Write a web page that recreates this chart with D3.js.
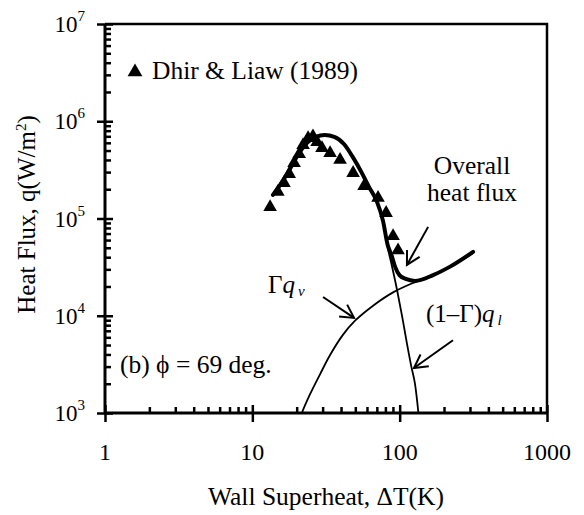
<!DOCTYPE html>
<meta charset="utf-8">
<style>
body { margin: 0; background: #fff; }
text { font-family: "Liberation Serif", "Times New Roman", serif; fill: #000; }
</style>
<svg width="584" height="515"></svg>
<script src="https://d3js.org/d3.v7.min.js"></script>
<script>

// Dhir & Liaw (1989) measurements: wall superheat (K), heat flux (W/m2)
var dhirT = [13.2, 14.9, 16.4, 17.8, 19.2, 20.8, 22.1, 23.9, 25.8, 27.5,
             29.7, 33.7, 39.4, 48.3, 57.3, 71.3, 80.9, 90.2, 97.5];
var dhirQ = [1.31e5, 1.88e5, 2.32e5, 2.87e5, 3.72e5, 4.6e5, 5.7e5, 6.7e5, 7.0e5, 6.1e5,
             5.3e5, 4.7e5, 4.0e5, 2.94e5, 2.16e5, 1.63e5, 1.14e5, 6.6e4, 4.7e4];

// model: overall heat flux
var overallT = [13.8, 15.4, 17.5, 20, 23.5, 27, 31, 36, 42, 48, 55, 62, 70, 77,
                83, 88, 93, 100, 110, 127, 168.5, 220, 315];
var overallQ = [1.75e5, 2.2e5, 3.0e5, 4.3e5, 6.0e5, 6.9e5, 7.2e5, 6.9e5, 5.8e5, 4.3e5, 3.0e5, 2.1e5, 1.5e5, 9.5e4,
                5.3e4, 4.2e4, 3.2e4, 2.6e4, 2.39e4, 2.28e4, 2.62e4, 3.2e4, 4.53e4];

// model: vapour part, Gamma*q_v
var vapourT = [20.5, 21.7, 24.6, 28.8, 33.7, 41.3, 49.8, 66.0, 90.2, 123, 168.5, 220, 315];
var vapourQ = [7.5e2, 1.0e3, 1.55e3, 2.5e3, 3.95e3, 6.4e3, 8.9e3, 1.27e4, 1.74e4, 2.17e4, 2.6e4, 3.17e4, 4.42e4];

// model: liquid part, (1-Gamma)*q_l
var liquidT = [13.8, 15.4, 17.5, 20, 23.5, 27, 31, 36, 42, 48, 55, 62, 70, 77,
               83, 88, 96, 104, 112, 120, 127, 134, 137];
var liquidQ = [1.75e5, 2.2e5, 3.0e5, 4.3e5, 6.0e5, 6.9e5, 7.2e5, 6.9e5, 5.8e5, 4.3e5, 3.0e5, 2.1e5, 1.5e5, 9.5e4,
               5.0e4, 3.4e4, 1.84e4, 9.8e3, 5.2e3, 3.0e3, 2.0e3, 1.0e3, 7e2];

var xTicks = [1, 10, 100, 1000];
var xTickLabels = ["1", "10", "100", "1000"];
var yExps = [3, 4, 5, 6, 7];

// annotation arrows in data coords: [tailT, tailQ, headT, headQ]
var arrows = [
  [156, 8.2e4, 112, 3.33e4],
  [30.2, 1.56e4, 49, 9.5e3],
  [230, 5.6e3, 125, 2.9e3]
];

var svg = d3.select("svg"),
    margin = {top: 24, right: 37, bottom: 102, left: 105},
    width = +svg.attr("width") - margin.left - margin.right,
    height = +svg.attr("height") - margin.top - margin.bottom,
    g = svg.append("g").attr("transform", "translate(" + margin.left + "," + margin.top + ")");

var x = d3.scaleLog().domain([1, 1000]).range([0, width]);
var y = d3.scaleLog().domain([1e3, 1e7]).range([height, 0]);

svg.append("defs").append("clipPath").attr("id", "clip")
  .append("rect").attr("width", width).attr("height", height);

var line = d3.line()
    .x(function(d) { return x(d[0]); })
    .y(function(d) { return y(d[1]); })
    .curve(d3.curveMonotoneX);
var smooth = d3.line()
    .x(function(d) { return x(d[0]); })
    .y(function(d) { return y(d[1]); })
    .curve(d3.curveCatmullRom.alpha(0.5));

function pairs(a, b) { return a.map(function(v, i) { return [v, b[i]]; }); }

var plot = g.append("g").attr("clip-path", "url(#clip)");

plot.append("path").datum(pairs(liquidT, liquidQ))
    .attr("d", line).attr("fill", "none").attr("stroke", "#000").attr("stroke-width", 1.8);
plot.append("path").datum(pairs(vapourT, vapourQ))
    .attr("d", smooth).attr("fill", "none").attr("stroke", "#000").attr("stroke-width", 1.8);
plot.append("path").datum(pairs(overallT, overallQ))
    .attr("d", line).attr("fill", "none").attr("stroke", "#000").attr("stroke-width", 4)
    .attr("stroke-linecap", "round");

var tri = d3.symbol().type(d3.symbolTriangle).size(80);
g.selectAll(".pt").data(pairs(dhirT, dhirQ)).enter().append("path")
    .attr("class", "pt")
    .attr("d", tri)
    .attr("transform", function(d) { return "translate(" + x(d[0]) + "," + y(d[1]) + ")"; })
    .attr("fill", "#000");

// arrows
arrows.forEach(function(a) {
  var x1 = x(a[0]), y1 = y(a[1]), x2 = x(a[2]), y2 = y(a[3]);
  var ang = Math.atan2(y2 - y1, x2 - x1), len = 15, spread = 0.5;
  g.append("line").attr("x1", x1).attr("y1", y1).attr("x2", x2).attr("y2", y2)
    .attr("stroke", "#000").attr("stroke-width", 2);
  g.append("path")
    .attr("d", "M" + (x2 - len * Math.cos(ang - spread)) + "," + (y2 - len * Math.sin(ang - spread)) +
               "L" + x2 + "," + y2 +
               "L" + (x2 - len * Math.cos(ang + spread)) + "," + (y2 - len * Math.sin(ang + spread)))
    .attr("fill", "none").attr("stroke", "#000").attr("stroke-width", 2);
});

// frame
g.append("path")
  .attr("d", "M0,0H" + width + "V" + height)
  .attr("fill", "none").attr("stroke", "#000").attr("stroke-width", 2.5);
g.append("path")
  .attr("d", "M0,0V" + height + "H" + width)
  .attr("fill", "none").attr("stroke", "#000").attr("stroke-width", 3);

// minor ticks
var xMinor = [], yMinor = [];
[1, 10, 100].forEach(function(b) { for (var k = 2; k < 10; k++) xMinor.push(b * k); });
[1e3, 1e4, 1e5, 1e6].forEach(function(b) { for (var k = 2; k < 10; k++) yMinor.push(b * k); });

function styleAxis(sel) {
  sel.select(".domain").remove();
  sel.selectAll(".tick line").attr("stroke", "#000").attr("stroke-width", 2.5);
  sel.selectAll(".tick text").remove();
}

g.append("g").call(d3.axisRight(y).tickValues(yMinor).tickSize(6)).call(styleAxis);
g.append("g").call(d3.axisRight(y).tickValues(yExps.map(function(e) { return Math.pow(10, e); })).tickSize(8)).call(styleAxis);
g.append("g").call(d3.axisLeft(y).tickValues(yExps.map(function(e) { return Math.pow(10, e); })).tickSize(8)).call(styleAxis);

g.append("g").attr("transform", "translate(0," + height + ")")
  .call(d3.axisTop(x).tickValues(xMinor).tickSize(6)).call(styleAxis);
g.append("g").attr("transform", "translate(0," + height + ")")
  .call(d3.axisTop(x).tickValues(xTicks).tickSize(8)).call(styleAxis);
g.append("g").attr("transform", "translate(0," + height + ")")
  .call(d3.axisBottom(x).tickValues(xTicks).tickSize(9)).call(styleAxis);

// tick labels
g.selectAll(".xl").data(xTicks).enter().append("text")
    .attr("x", function(d) { return x(d); })
    .attr("y", height + 47)
    .attr("text-anchor", "middle")
    .style("font-size", "24px")
    .text(function(d, i) { return xTickLabels[i]; });

var yl = g.selectAll(".yl").data(yExps).enter().append("text")
    .attr("x", -20)
    .attr("y", function(d) { return y(Math.pow(10, d)) + 8; })
    .attr("text-anchor", "end")
    .style("font-size", "23px");
yl.append("tspan").text("10");
yl.append("tspan").attr("dy", -11).style("font-size", "15px").text(function(d) { return d; });

// axis titles
svg.append("text")
    .attr("x", margin.left + width / 2).attr("y", 505)
    .attr("text-anchor", "middle")
    .style("font-size", "25.5px")
    .text("Wall Superheat, \u0394T(K)");

var yt = svg.append("text")
    .attr("transform", "translate(35," + (margin.top + height / 2 - 4) + ") rotate(-90)")
    .attr("text-anchor", "middle")
    .style("font-size", "25px");
yt.append("tspan").text("Heat Flux, q(W/m");
yt.append("tspan").attr("dy", -9).style("font-size", "15px").text("2");
yt.append("tspan").attr("dy", 9).text(")");

// legend
svg.append("path").attr("d", d3.symbol().type(d3.symbolTriangle).size(95))
    .attr("transform", "translate(135,72)").attr("fill", "#000");
svg.append("text").attr("x", 152).attr("y", 79).style("font-size", "25.5px").text("Dhir & Liaw (1989)");

// annotations
svg.append("text").attr("x", 472).attr("y", 174).attr("text-anchor", "middle")
    .style("font-size", "25.5px").text("Overall");
svg.append("text").attr("x", 472).attr("y", 201).attr("text-anchor", "middle")
    .style("font-size", "25.5px").text("heat flux");

var gv = svg.append("text").attr("x", 268).attr("y", 293).style("font-size", "25px");
gv.append("tspan").text("\u0393");
gv.append("tspan").style("font-style", "italic").text("q");
gv.append("tspan").attr("dx", 3).attr("dy", 3).style("font-style", "italic").style("font-size", "15px").text("v");

var gl = svg.append("text").attr("x", 426).attr("y", 322).style("font-size", "25px");
gl.append("tspan").text("(1\u2013\u0393)");
gl.append("tspan").style("font-style", "italic").text("q");
gl.append("tspan").attr("dx", 3).attr("dy", 3).style("font-style", "italic").style("font-size", "15px").text("l");

svg.append("text").attr("x", 120).attr("y", 373).style("font-size", "25.5px")
    .text("(b) \u03D5 = 69 deg.");

</script>
